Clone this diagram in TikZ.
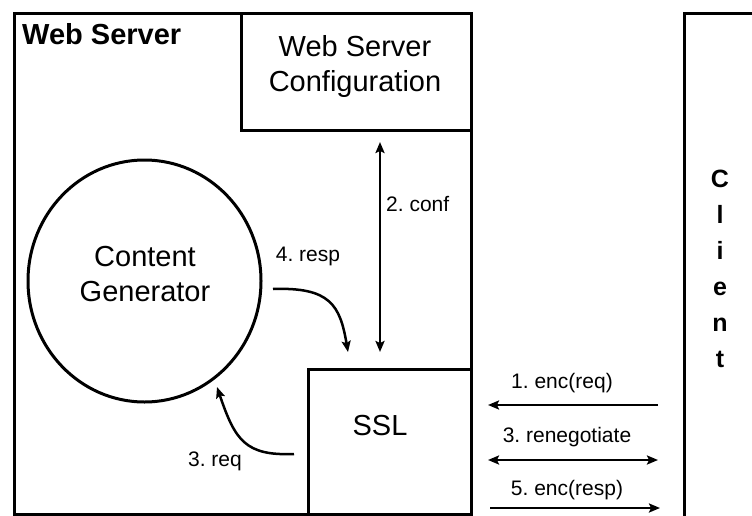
\documentclass[tikz,border=0pt]{standalone}
\usepackage{fontspec}
\setmainfont{Liberation Sans}
\usetikzlibrary{arrows.meta,shapes.geometric}
\frenchspacing
\begin{document}
\begin{tikzpicture}[x=1pt,y=-1pt,
  box/.style={draw, line width=3pt, inner sep=0pt},
  big/.style={font=\fontsize{29}{35}\selectfont, align=center, inner sep=0pt},
  lbl/.style={font=\fontsize{21}{25}\selectfont, inner sep=0pt},
  conn/.style={line width=2.5pt, -{Stealth[length=11pt,width=9pt,inset=2pt]}},
  dconn/.style={line width=2.5pt, {Stealth[length=11pt,width=9pt,inset=2pt]}-{Stealth[length=11pt,width=9pt,inset=2pt]}}]
\useasboundingbox (0,0) rectangle (752,516);
\clip (0,0) rectangle (752,516);
\fill[white] (0,0) rectangle (752,516);
% Web server outer box
\node[box, anchor=north west, minimum width=457pt, minimum height=501pt] (ws) at (13,12) {};
\node[font=\bfseries\fontsize{29}{35}\selectfont, anchor=base west, inner sep=0pt] (wstitle) at (22,45) {Web Server};
% configuration box
\node[box, anchor=north west, minimum width=230pt, minimum height=117pt] (cfg) at (240,12) {};
\node[big, font=\fontsize{29}{35}\selectfont] (cfgtext) at (355,67) {Web Server\\Configuration};
% content generator
\node[box, ellipse, minimum width=233pt, minimum height=242pt] (cg) at (144.5,281) {};
\node[big] (cgtext) at (145,274) {Content\\Generator};
% SSL box
\node[box, anchor=north west, minimum width=163pt, minimum height=146pt] (ssl) at (307,368) {};
\node[big] (ssltext) at (380,426) {SSL};
% client box
\node[box, anchor=north west, minimum width=120pt, minimum height=540pt] (client) at (683,12) {};
\node[font=\bfseries\fontsize{25}{36}\selectfont, align=center, inner sep=0pt, anchor=north] (clienttext) at (720,170) {C\\l\\i\\e\\n\\t};
% connector end points
\coordinate (confA) at (380,142);
\coordinate (confB) at (380,352);
\coordinate (respA) at (273,289);
\coordinate (respB) at (348,352);
\coordinate (reqA) at (294,454);
\coordinate (reqB) at (217,387);
\coordinate (c1A) at (658,405);
\coordinate (c1B) at (488,405);
\coordinate (c3A) at (488,460);
\coordinate (c3B) at (658,460);
\coordinate (c5A) at (490,508);
\coordinate (c5B) at (660,508);
% connectors
\draw[dconn] (confA) -- (confB);
\node[lbl, anchor=west] (conflbl) at (386,204) {2. conf};
\draw[conn] (respA) .. controls (330,287) and (340,305) .. (respB);
\node[lbl] (resplbl) at (308,256) {4. resp};
\draw[conn] (reqA) .. controls (245,456) and (235,440) .. (reqB);
\node[lbl] (reqlbl) at (215,461) {3. req};
\draw[conn] (c1A) -- (c1B);
\node[lbl] (c1lbl) at (562,383) {1. enc(req)};
\draw[dconn] (c3A) -- (c3B);
\node[lbl] (c3lbl) at (567,437) {3. renegotiate};
\draw[conn] (c5A) -- (c5B);
\node[lbl] (c5lbl) at (567,490) {5. enc(resp)};
\end{tikzpicture}
\end{document}
